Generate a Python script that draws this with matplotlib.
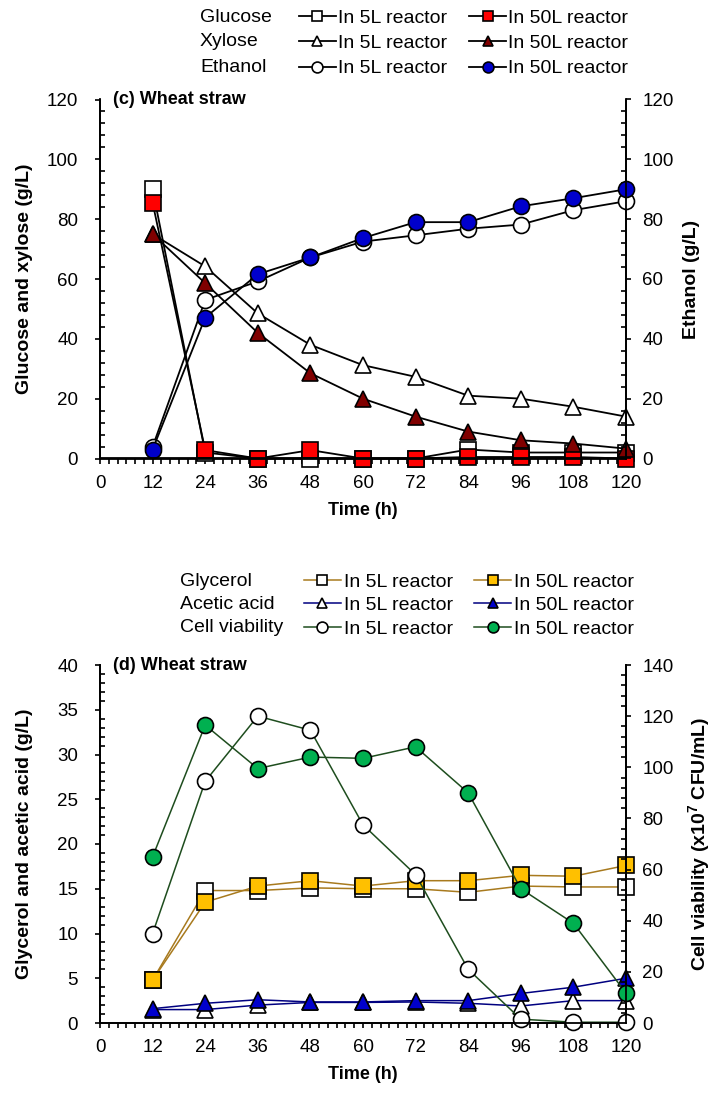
import matplotlib
matplotlib.use('Agg')
import matplotlib.pyplot as plt
from matplotlib.ticker import MultipleLocator

plt.rcParams['font.family'] = ['Liberation Sans', 'DejaVu Sans']
plt.rcParams['mathtext.fontset'] = 'custom'
plt.rcParams['mathtext.rm'] = 'Liberation Sans'
plt.rcParams['mathtext.bf'] = 'Liberation Sans:bold'

# time points (h)
time = [12, 24, 36, 48, 60, 72, 84, 96, 108, 120]

# (c) sugars and ethanol, g/L
glucose_5l = [90, 2, 0, 0, 0, 0, 3, 2, 2, 2]
glucose_50l = [85.5, 2.8, 0, 2.8, 0, 0, 0.5, 0.5, 0.5, 0]
xylose_5l = [75, 64.2, 48.5, 38, 31.2, 27.3, 21, 20, 17.3, 14]
xylose_50l = [75, 58.6, 42, 28.5, 20, 14, 9, 6.1, 5, 3.3]
ethanol_5l = [3.9, 53, 59.2, 67.2, 72.5, 74.6, 76.8, 78.2, 83, 86]
ethanol_50l = [3, 47.1, 61.6, 67.2, 73.7, 79, 79, 84.3, 87, 90]

# (d) by-products (g/L) and cell viability (x10^7 CFU/mL)
glycerol_5l = [4.8, 14.8, 14.8, 15.1, 15.0, 15.0, 14.6, 15.3, 15.2, 15.2]
glycerol_50l = [4.8, 13.5, 15.3, 15.9, 15.3, 15.9, 15.9, 16.5, 16.4, 17.6]
acetic_5l = [1.5, 1.5, 2.0, 2.3, 2.3, 2.35, 2.2, 1.9, 2.5, 2.5]
acetic_50l = [1.6, 2.2, 2.6, 2.35, 2.35, 2.5, 2.5, 3.3, 4.0, 5.0]
viability_5l = [35, 94.5, 120, 114.5, 77.5, 58, 21, 1.5, 0.3, 0.3]
viability_50l = [65, 116.5, 99.5, 104, 103.5, 108, 90, 52.5, 39, 11.7]

FS_TICK = 13.5
FS_LAB = 13
FS_YLAB = 14
FS_LEG = 14
MS = 11.5
MEW = 1.2
W, H = 713, 1093


def style_axes(ax, ax2, ymax_left, ymax_right, left_major, left_minor, right_major, right_minor):
    ax.set_xlim(0, 120)
    ax.set_ylim(0, ymax_left)
    ax2.set_ylim(0, ymax_right)
    ax.xaxis.set_major_locator(MultipleLocator(12))
    ax.xaxis.set_minor_locator(MultipleLocator(2))
    ax.yaxis.set_major_locator(MultipleLocator(left_major))
    ax.yaxis.set_minor_locator(MultipleLocator(left_minor))
    ax2.yaxis.set_major_locator(MultipleLocator(right_major))
    ax2.yaxis.set_minor_locator(MultipleLocator(right_minor))
    for a in (ax, ax2):
        a.spines['top'].set_visible(False)
        for s in a.spines.values():
            s.set_linewidth(1.3)
    ax.tick_params(axis='x', which='both', direction='out', length=3.8, width=1.2,
                   labelsize=FS_TICK, pad=8)
    ax.tick_params(axis='y', which='major', direction='out', length=3.8, width=1.2,
                   labelsize=FS_TICK, pad=12)
    ax.tick_params(axis='y', which='minor', direction='in', length=3.8, width=1.2)
    ax2.tick_params(axis='y', which='major', direction='out', length=3.8, width=1.2,
                    labelsize=FS_TICK, pad=8)
    ax2.tick_params(axis='y', which='minor', direction='in', length=3.8, width=1.2)
    ax.set_xlabel('Time (h)', fontsize=FS_LAB, fontweight='bold', labelpad=7)


def set_ylabels(ax, ax2, left, right, right_x):
    ax.set_ylabel(left, fontsize=FS_YLAB, fontweight='bold', va='center')
    ax.yaxis.set_label_coords((25 - 100) / 526, 0.5)
    ax2.set_ylabel(right, fontsize=FS_YLAB, fontweight='bold', va='center')
    ax2.yaxis.set_label_coords((right_x - 100) / 526, 0.5)


fig = plt.figure(figsize=(7.13, 10.93), dpi=100)

# ---------- (c) ----------
ax = fig.add_axes([100 / W, 1 - 458.5 / H, 526 / W, 359 / H])
ax2 = ax.twinx()
kw = dict(markersize=MS, markeredgewidth=MEW, markeredgecolor='black', color='black', lw=1.3)
h1, = ax.plot(time, glucose_5l, marker='s', markerfacecolor='white', **kw)
h2, = ax.plot(time, xylose_5l, marker='^', markerfacecolor='white', **kw)
h4, = ax.plot(time, glucose_50l, marker='s', markerfacecolor='#FF0000', **kw)
h5, = ax.plot(time, xylose_50l, marker='^', markerfacecolor='#800000', **kw)
h3, = ax2.plot(time, ethanol_5l, marker='o', markerfacecolor='white', **kw)
h6, = ax2.plot(time, ethanol_50l, marker='o', markerfacecolor='#0000CC', **kw)
for line in ax.lines + ax2.lines:
    line.set_clip_on(False)
style_axes(ax, ax2, 120, 120, 20, 4, 20, 4)
set_ylabels(ax, ax2, 'Glucose and xylose (g/L)', 'Ethanol (g/L)', 692)
ax.text(0.025, 1.0, '(c) Wheat straw', transform=ax.transAxes, fontsize=FS_LAB,
        fontweight='bold', va='center', ha='left')

fig.legend([h1, h2, h3, h4, h5, h6], ['In 5L reactor'] * 3 + ['In 50L reactor'] * 3,
           ncol=2, loc='upper left', bbox_to_anchor=(299 / W, 1 - 9 / H), frameon=False,
           fontsize=FS_LEG, handlelength=1.9, handletextpad=0.1, columnspacing=1.15,
           labelspacing=0.4, markerscale=0.68, borderpad=0, borderaxespad=0)
for i, name in enumerate(['Glucose', 'Xylose', 'Ethanol']):
    fig.text(200 / W, 1 - (17 + 25 * i) / H, name, fontsize=FS_LEG, va='center', ha='left')

# ---------- (d) ----------
bx = fig.add_axes([100 / W, 1 - 1023 / H, 526 / W, 358 / H])
bx2 = bx.twinx()
kw = dict(markersize=MS, markeredgewidth=MEW, markeredgecolor='black', lw=1.1)
g1, = bx.plot(time, glycerol_5l, marker='s', markerfacecolor='white', color='#A87A1E', **kw)
g4, = bx.plot(time, glycerol_50l, marker='s', markerfacecolor='#FFC000', color='#A87A1E', **kw)
g2, = bx.plot(time, acetic_5l, marker='^', markerfacecolor='white', color='#000080', **kw)
g5, = bx.plot(time, acetic_50l, marker='^', markerfacecolor='#0000CC', color='#000080', **kw)
g3, = bx2.plot(time, viability_5l, marker='o', markerfacecolor='white', color='#1E4D1E', **kw)
g6, = bx2.plot(time, viability_50l, marker='o', markerfacecolor='#00B050', color='#1E4D1E', **kw)
for line in bx.lines + bx2.lines:
    line.set_clip_on(False)
style_axes(bx, bx2, 40, 140, 5, 1, 20, 4)
set_ylabels(bx, bx2, 'Glycerol and acetic acid (g/L)',
            'Cell viability (x10$^{\\mathbf{7}}$ CFU/mL)', 700)
bx.text(0.025, 1.0, '(d) Wheat straw', transform=bx.transAxes, fontsize=FS_LAB,
        fontweight='bold', va='center', ha='left')

fig.legend([g1, g2, g3, g4, g5, g6], ['In 5L reactor'] * 3 + ['In 50L reactor'] * 3,
           ncol=2, loc='upper left', bbox_to_anchor=(304 / W, 1 - 573 / H), frameon=False,
           fontsize=FS_LEG, handlelength=1.9, handletextpad=0.15, columnspacing=1.1,
           labelspacing=0.3, markerscale=0.68, borderpad=0, borderaxespad=0)
for i, name in enumerate(['Glycerol', 'Acetic acid', 'Cell viability']):
    fig.text(180 / W, 1 - (581 + 23.5 * i) / H, name, fontsize=FS_LEG, va='center', ha='left')

fig.savefig('out.png', dpi=100)
